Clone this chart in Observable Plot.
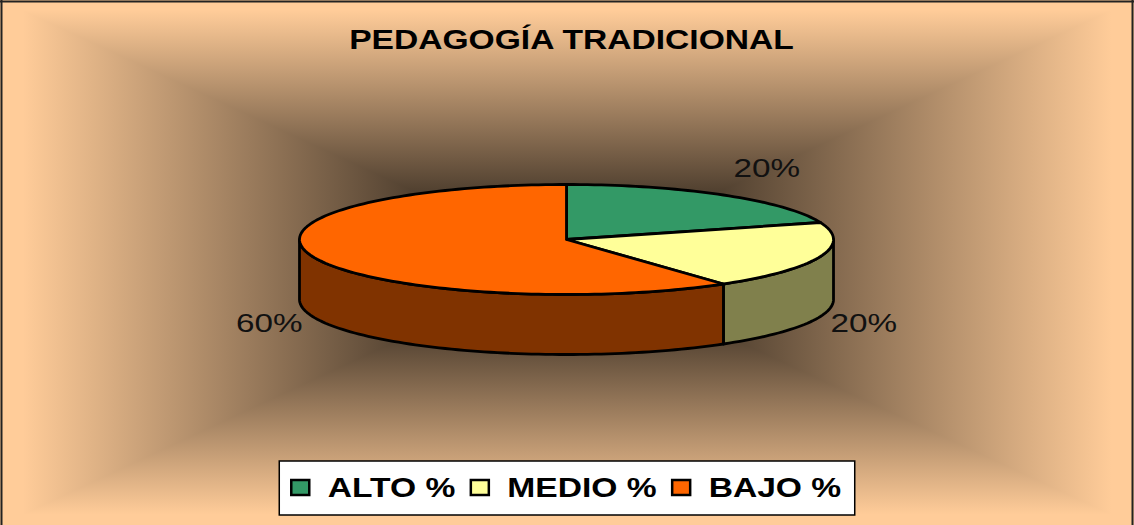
<!DOCTYPE html>
<html><head><meta charset="utf-8">
<script src="https://cdn.jsdelivr.net/npm/d3@7"></script>
<script src="https://cdn.jsdelivr.net/npm/@observablehq/plot@0.6"></script>
<style>html,body{margin:0;padding:0;background:#fff;} svg{display:block;}</style>
</head><body><div id="chart"></div>
<script>
const title = "PEDAGOGÍA TRADICIONAL";
const categories = ["ALTO %", "MEDIO %", "BAJO %"];
const values = [20, 20, 60];
const topColors = ["#339966", "#FFFF99", "#FF6600"];
const sideColors = ["#1A4D33", "#80804C", "#803300"];

const W = 1134, H = 525;
const pie = {cx: 566, cy: 239, rx: 267, ry: 55, depth: 60};
const bg = {x0: 0, x1: W, y0: 0, y1: H, cx: 567, cy: 262, edge: "#FFCC99", center: "#0d0a07"};

const total = d3.sum(values);
let acc = 0;
const slices = values.map((v, i) => {
  const a0 = acc / total * 2 * Math.PI; acc += v;
  const a1 = acc / total * 2 * Math.PI;
  return {i, v, a0, a1};
});
const ex = a => pie.cx + pie.rx * Math.sin(a);
const ey = a => pie.cy - pie.ry * Math.cos(a);
function arc(a0, a1, dy = 0) {
  const n = Math.max(2, Math.ceil((a1 - a0) / (Math.PI / 120)));
  return d3.range(n + 1).map(k => { const a = a0 + (a1 - a0) * k / n; return {x: ex(a), y: ey(a) + dy}; });
}
const sides = [];
slices.forEach(s => {
  const s0 = Math.max(s.a0, Math.PI / 2), s1 = Math.min(s.a1, 3 * Math.PI / 2);
  if (s1 > s0) {
    const top = arc(s0, s1), bot = arc(s0, s1, pie.depth).reverse();
    sides.push({i: s.i, pts: [...top, ...bot, top[0]]});
  }
});
const tops = slices.map(s => {
  const c = {x: pie.cx, y: pie.cy};
  return {i: s.i, pts: [c, ...arc(s.a0, s.a1), c]};
});
const labels = slices.map(s => {
  const m = (s.a0 + s.a1) / 2, sx = Math.sin(m), front = Math.cos(m) < 0;
  return {text: `${s.v}%`, x: ex(m) + (sx >= 0 ? 10 : -10),
    y: front ? ey(m) + pie.depth + 7 : ey(m) - 18,
    anchor: sx >= 0 ? "start" : "end", line: front ? "middle" : "bottom"};
});

// legend layout
const ctx = document.createElement("canvas").getContext("2d");
ctx.font = "bold 28px 'Liberation Sans'";
const legStretch = 1.2, sw = 18, gapIn = 18, gapOut = 16;
const tw = categories.map(c => ctx.measureText(c).width * legStretch);
const totalW = d3.sum(tw) + categories.length * (sw + gapIn) + (categories.length - 1) * gapOut;
let lx = 566 - totalW / 2;
const legend = categories.map((c, i) => {
  const item = {c, sx: lx, tx: lx + sw + gapIn, color: topColors[i]};
  lx += sw + gapIn + tw[i] + gapOut; return item;
});
const legendBox = {x1: legend[0].sx - 12, x2: lx - gapOut + 14, y1: 461, y2: 515};

function background(index, scales) {
  const X = scales && typeof scales.x === "function" ? scales.x : v => v;
  const Y = scales && typeof scales.y === "function" ? scales.y : v => v;
  const g = d3.create("svg:g");
  const defs = g.append("defs");
  const x0 = X(bg.x0), x1 = X(bg.x1), y0 = Y(bg.y0), y1 = Y(bg.y1), cx = X(bg.cx), cy = Y(bg.cy);
  const parts = [
    {id: "bgT", pts: [[x0, y0], [x1, y0], [cx, cy]], g: [cx, y0, cx, cy]},
    {id: "bgB", pts: [[x0, y1], [x1, y1], [cx, cy]], g: [cx, y1, cx, cy]},
    {id: "bgL", pts: [[x0, y0], [x0, y1], [cx, cy]], g: [x0, cy, cx, cy]},
    {id: "bgR", pts: [[x1, y0], [x1, y1], [cx, cy]], g: [x1, cy, cx, cy]}
  ];
  parts.forEach(p => {
    const lg = defs.append("linearGradient").attr("id", p.id).attr("gradientUnits", "userSpaceOnUse")
      .attr("x1", p.g[0]).attr("y1", p.g[1]).attr("x2", p.g[2]).attr("y2", p.g[3]);
    lg.append("stop").attr("offset", 0).attr("stop-color", bg.edge);
    lg.append("stop").attr("offset", 0.04).attr("stop-color", bg.edge);
    lg.append("stop").attr("offset", 1).attr("stop-color", bg.center);
    g.append("polygon").attr("points", p.pts.join(" ")).attr("fill", `url(#${p.id})`).attr("shape-rendering", "crispEdges");
  });
  return g.node();
}

const faceMark = (f, colors) => Plot.line(f.pts, {x: "x", y: "y", fill: colors[f.i], stroke: "#000",
  strokeWidth: 2.8, strokeLinejoin: "round", strokeLinecap: "round"});

const svg = Plot.plot({
  width: W, height: H, margin: 0,
  x: {domain: [0, W], range: [0, W], axis: null},
  y: {domain: [0, H], range: [0, H], axis: null},
  color: {type: "identity"},
  style: {background: "transparent"},
  marks: [
    background,
    Plot.ruleX([1, W - 2], {stroke: "#222", strokeWidth: 2}),
    Plot.ruleY([1], {stroke: "#222", strokeWidth: 2}),
    ...sides.map(f => faceMark(f, sideColors)),
    ...tops.map(f => faceMark(f, topColors)),
    ...labels.map(l => Plot.text([l], {x: "x", y: "y", text: "text", textAnchor: l.anchor, lineAnchor: l.line,
      fontFamily: "Liberation Sans", fontSize: 26, fill: "#111"})),
    Plot.text([title], {x: () => 571, y: () => 48, text: d => d, textAnchor: "middle", lineAnchor: "bottom",
      fontFamily: "Liberation Sans", fontWeight: "bold", fontSize: 28, fill: "#000"}),
    Plot.rect([legendBox], {x1: "x1", x2: "x2", y1: "y1", y2: "y2", fill: "white", stroke: "#000", strokeWidth: 1.5}),
    Plot.rect(legend, {x1: d => d.sx, x2: d => d.sx + sw, y1: () => 480, y2: () => 495, fill: "color",
      stroke: "#000", strokeWidth: 2.5}),
    Plot.text(legend, {x: "tx", y: () => 496, text: "c", textAnchor: "start", lineAnchor: "bottom",
      fontFamily: "Liberation Sans", fontWeight: "bold", fontSize: 28, fill: "#000"})
  ]
});
document.getElementById("chart").appendChild(svg);

// horizontal stretch of text (the reference's fonts are drawn wider), scaled about each text's anchor
const stretchFor = s => s === title ? 1.2 : categories.includes(s) ? legStretch : /%$/.test(s) ? 1.28 : 1;
svg.querySelectorAll("text").forEach(t => {
  const k = stretchFor(t.textContent.trim());
  if (k === 1) return;
  const ax = +(t.getAttribute("x") || 0);
  const prev = t.getAttribute("transform") || "";
  t.setAttribute("transform", `${prev} translate(${ax},0) scale(${k},1) translate(${-ax},0)`.trim());
});
</script></body></html>
